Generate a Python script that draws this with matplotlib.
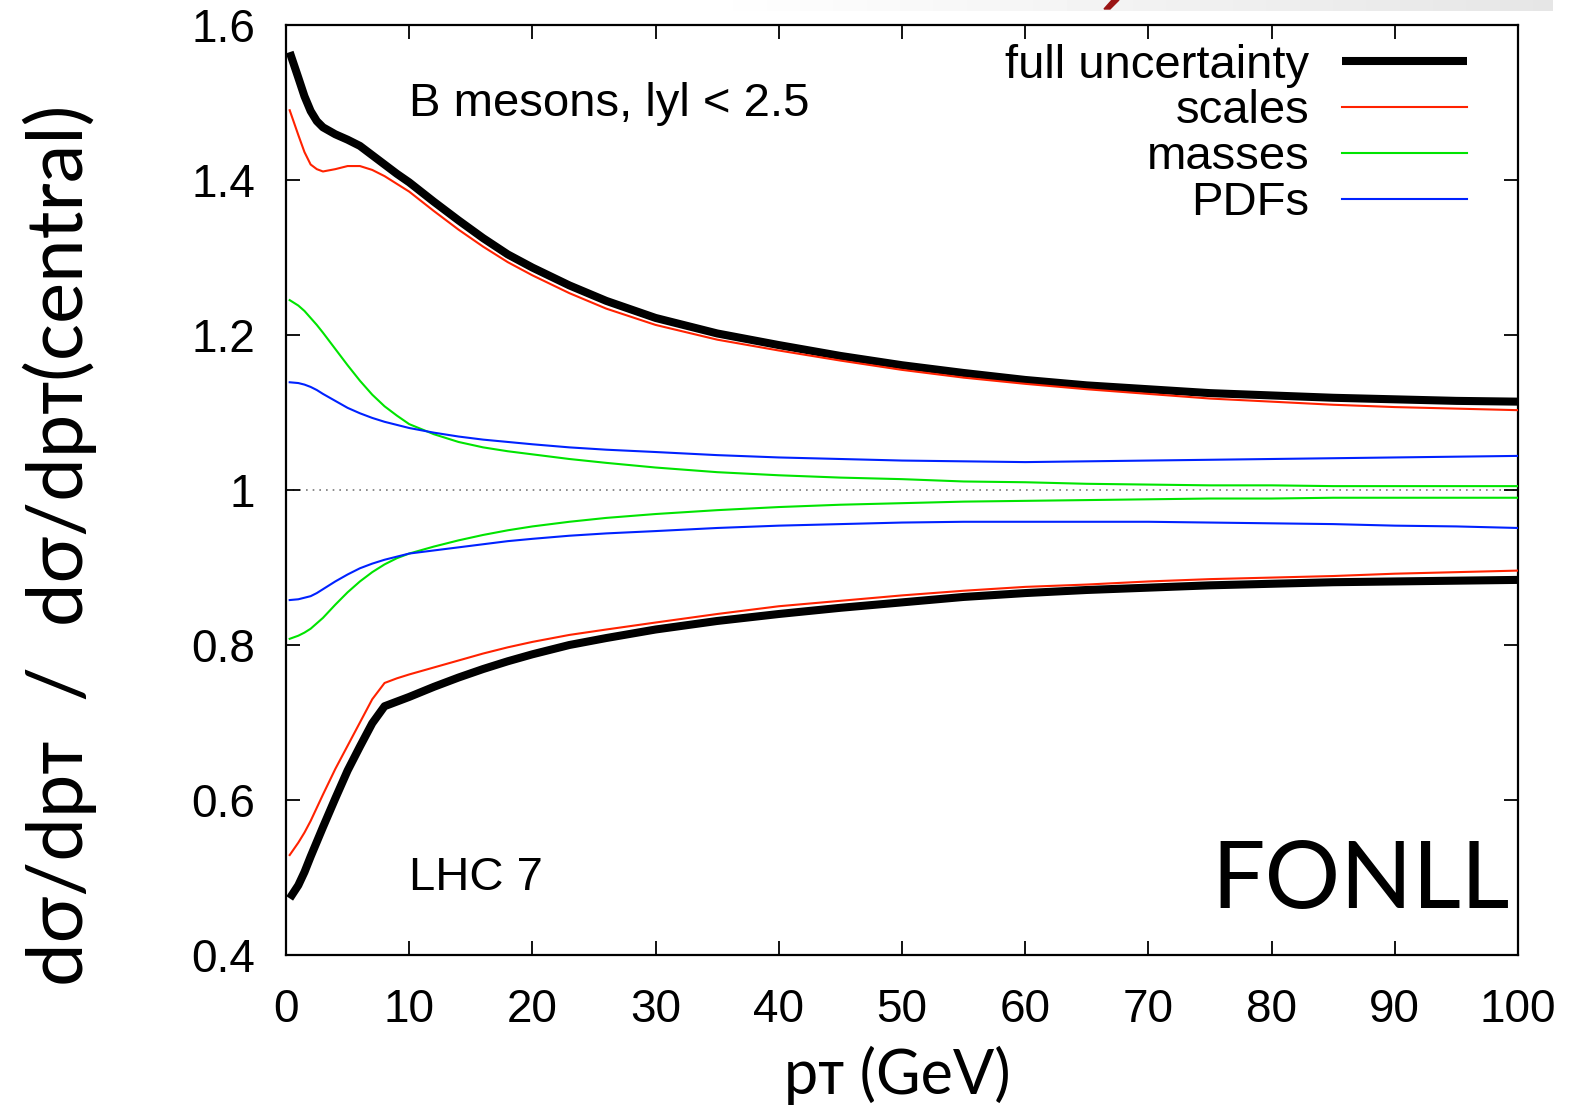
import numpy as np
import matplotlib
matplotlib.use("Agg")
import matplotlib.pyplot as plt
from matplotlib.patches import Polygon

# ---------------- data ----------------
pt = [0.3, 1, 1.5, 2, 2.5, 3, 4, 5, 6, 7, 8, 9, 10, 12, 14, 16, 18, 20, 23, 26,
      30, 35, 40, 45, 50, 55, 60, 65, 70, 75, 80, 85, 90, 95, 100]

full_up = [1.565, 1.532, 1.508, 1.489, 1.476, 1.468, 1.459, 1.452, 1.444, 1.432,
           1.420, 1.408, 1.397, 1.372, 1.348, 1.325, 1.304, 1.287, 1.264, 1.244,
           1.222, 1.202, 1.187, 1.173, 1.161, 1.151, 1.142, 1.135, 1.130, 1.125,
           1.122, 1.119, 1.117, 1.115, 1.114]
full_lo = [0.473, 0.490, 0.507, 0.527, 0.546, 0.565, 0.602, 0.638, 0.669, 0.699,
           0.721, 0.727, 0.733, 0.746, 0.758, 0.769, 0.779, 0.788, 0.800, 0.809,
           0.820, 0.831, 0.840, 0.848, 0.855, 0.862, 0.867, 0.871, 0.874, 0.877,
           0.879, 0.881, 0.882, 0.883, 0.884]

scales_up = [1.490, 1.458, 1.436, 1.420, 1.414, 1.411, 1.414, 1.418, 1.418, 1.413,
             1.405, 1.395, 1.385, 1.360, 1.336, 1.314, 1.294, 1.277, 1.254, 1.234,
             1.213, 1.194, 1.180, 1.167, 1.155, 1.145, 1.137, 1.130, 1.124, 1.118,
             1.114, 1.110, 1.107, 1.105, 1.103]
scales_lo = [0.529, 0.545, 0.558, 0.573, 0.590, 0.607, 0.640, 0.670, 0.700, 0.730,
             0.751, 0.757, 0.762, 0.771, 0.780, 0.789, 0.797, 0.804, 0.813, 0.820,
             0.829, 0.840, 0.850, 0.857, 0.864, 0.870, 0.875, 0.878, 0.882, 0.885,
             0.887, 0.889, 0.892, 0.894, 0.896]

masses_up = [1.245, 1.238, 1.231, 1.222, 1.213, 1.203, 1.182, 1.161, 1.141, 1.123,
             1.108, 1.096, 1.085, 1.072, 1.062, 1.055, 1.050, 1.046, 1.040, 1.035,
             1.029, 1.023, 1.019, 1.016, 1.014, 1.011, 1.010, 1.008, 1.007, 1.006,
             1.006, 1.005, 1.005, 1.005, 1.005]
masses_lo = [0.808, 0.812, 0.816, 0.821, 0.828, 0.835, 0.852, 0.868, 0.882, 0.894,
             0.904, 0.912, 0.918, 0.927, 0.935, 0.942, 0.948, 0.953, 0.959, 0.964,
             0.969, 0.974, 0.978, 0.981, 0.983, 0.985, 0.986, 0.987, 0.988, 0.989,
             0.989, 0.990, 0.990, 0.990, 0.990]

pdfs_up = [1.139, 1.138, 1.136, 1.133, 1.129, 1.124, 1.115, 1.106, 1.099, 1.093,
           1.088, 1.084, 1.080, 1.074, 1.069, 1.065, 1.062, 1.059, 1.055, 1.052,
           1.049, 1.045, 1.042, 1.040, 1.038, 1.037, 1.036, 1.037, 1.038, 1.039,
           1.040, 1.041, 1.042, 1.043, 1.044]
pdfs_lo = [0.858, 0.859, 0.861, 0.863, 0.867, 0.872, 0.882, 0.891, 0.899, 0.905,
           0.910, 0.914, 0.918, 0.922, 0.926, 0.930, 0.934, 0.937, 0.941, 0.944,
           0.947, 0.951, 0.954, 0.956, 0.958, 0.959, 0.959, 0.959, 0.959, 0.958,
           0.957, 0.956, 0.954, 0.953, 0.951]

xticks = [0, 10, 20, 30, 40, 50, 60, 70, 80, 90, 100]
yticks = [0.4, 0.6, 0.8, 1.0, 1.2, 1.4, 1.6]
yticklabels = ["0.4", "0.6", "0.8", "1", "1.2", "1.4", "1.6"]

# ---------------- figure ----------------
W, H = 1574, 1113
fig = plt.figure(figsize=(W / 100, H / 100), dpi=100)
ax = fig.add_axes([286 / W, 1 - 955 / H, (1518 - 286) / W, (955 - 25) / H])

sans = ["Liberation Sans", "DejaVu Sans"]
gill = ["Lato", "DejaVu Sans"]

RED, GREEN, BLUE = "#ff2200", "#00e400", "#0022ff"

ax.axhline(1.0, color="#777777", lw=1.2, ls=(0, (1, 3)), zorder=1)

kw_thick = dict(color="black", lw=5.8, solid_capstyle="butt",
                solid_joinstyle="round", zorder=3)
ax.plot(pt, full_up, label="full uncertainty", **kw_thick)
ax.plot(pt, full_lo, **kw_thick)
ax.plot(pt, scales_up, color=RED, lw=1.5, label="scales", zorder=4)
ax.plot(pt, scales_lo, color=RED, lw=1.5, zorder=4)
ax.plot(pt, masses_up, color=GREEN, lw=1.5, label="masses", zorder=4)
ax.plot(pt, masses_lo, color=GREEN, lw=1.5, zorder=4)
ax.plot(pt, pdfs_up, color=BLUE, lw=1.5, label="PDFs", zorder=4)
ax.plot(pt, pdfs_lo, color=BLUE, lw=1.5, zorder=4)

ax.set_xlim(0, 100)
ax.set_ylim(0.4, 1.6)
ax.set_xticks(xticks)
ax.set_xticklabels([str(v) for v in xticks])
ax.set_yticks(yticks)
ax.set_yticklabels(yticklabels)
ax.tick_params(direction="in", length=10, width=1.3, top=True, right=True,
               labelsize=33)
ax.tick_params(axis="x", pad=24)
ax.tick_params(axis="y", pad=22)
for lab in ax.get_xticklabels() + ax.get_yticklabels():
    lab.set_family(sans)
for s in ax.spines.values():
    s.set_linewidth(1.6)

leg = ax.legend(loc="upper right", markerfirst=False, frameon=False,
                prop={"family": sans, "size": 34}, handlelength=2.65,
                handletextpad=0.68, labelspacing=0.04, borderpad=0.0,
                borderaxespad=0.0, bbox_to_anchor=(0.9585, 0.980))

ax.text(10.0, 1.498, "B mesons, lyl < 2.5", family=sans, fontsize=34,
        ha="left", va="center")
ax.text(10.0, 0.499, "LHC 7", family=sans, fontsize=34, ha="left", va="center")
ax.text(99.3, 0.494, "FONLL", family=gill, fontsize=68, ha="right", va="center")

fig.text(60 / W, 1 - 545 / H, "dσ/dpᴛ  /  dσ/dpᴛ(central)", family=gill,
         fontsize=56, rotation=90, ha="center", va="center")
fig.text(897 / W, 1 - 1075 / H, "pᴛ (GeV)", family=gill, fontsize=44,
         ha="center", va="center")

# slide remnants at top
band = fig.add_axes([700 / W, 1 - 11 / H, (1553 - 700) / W, 11 / H])
band.imshow(np.linspace(1.0, 0.9, 256)[None, :], cmap="gray", vmin=0, vmax=1,
            aspect="auto")
band.axis("off")
fig.patches.append(Polygon([[1104 / W, 1 - 9 / H], [1110 / W, 1 - 9 / H],
                            [1119 / W, 1.0], [1112 / W, 1.0]],
                           closed=True, transform=fig.transFigure,
                           color="#9a1414"))

fig.savefig("out.png", dpi=100)
